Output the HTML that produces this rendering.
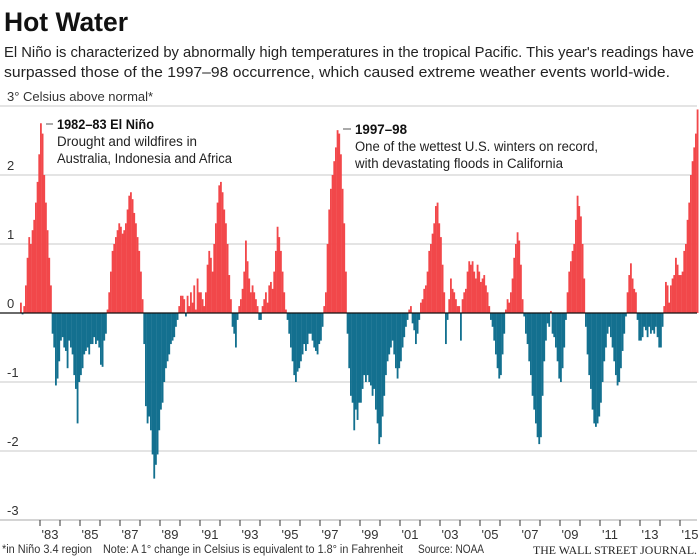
<!DOCTYPE html>
<html><head><meta charset="utf-8"><style>
html,body{margin:0;padding:0;background:#fff;}
svg{display:block;font-family:"Liberation Sans",sans-serif;}
</style></head><body>
<svg id="chart" width="700" height="559" viewBox="0 0 700 559" xmlns="http://www.w3.org/2000/svg">
<text x="4" y="31" font-size="27" font-weight="bold" fill="#111" textLength="124" lengthAdjust="spacingAndGlyphs">Hot Water</text>
<text x="4" y="57" font-size="15" fill="#222" textLength="690" lengthAdjust="spacingAndGlyphs">El Niño is characterized by abnormally high temperatures in the tropical Pacific. This year's readings have</text>
<text x="4" y="77" font-size="15" fill="#222" textLength="666" lengthAdjust="spacingAndGlyphs">surpassed those of the 1997–98 occurrence, which caused extreme weather events world-wide.</text>
<g id="grid"></g>
<g id="bars"></g>
<g id="axis"></g>
<g id="ylabels"></g>
<g>
<line x1="46" y1="124" x2="53" y2="124" stroke="#555" stroke-width="1"/>
<text x="57" y="129" font-size="13.5" font-weight="bold" fill="#111" textLength="97" lengthAdjust="spacingAndGlyphs">1982–83 El Niño</text>
<text x="57" y="146" font-size="13.5" fill="#222" textLength="140" lengthAdjust="spacingAndGlyphs">Drought and wildfires in</text>
<text x="57" y="163" font-size="13.5" fill="#222" textLength="175" lengthAdjust="spacingAndGlyphs">Australia, Indonesia and Africa</text>
</g>
<g>
<line x1="343" y1="129" x2="351" y2="129" stroke="#555" stroke-width="1"/>
<text x="355" y="134" font-size="13.5" font-weight="bold" fill="#111" textLength="52" lengthAdjust="spacingAndGlyphs">1997–98</text>
<text x="355" y="151" font-size="13.5" fill="#222" textLength="243" lengthAdjust="spacingAndGlyphs">One of the wettest U.S. winters on record,</text>
<text x="355" y="168" font-size="13.5" fill="#222" textLength="208" lengthAdjust="spacingAndGlyphs">with devastating floods in California</text>
</g>
<text x="2" y="553" font-size="11.5" fill="#333" textLength="90" lengthAdjust="spacingAndGlyphs">*in Niño 3.4 region</text>
<text x="103" y="553" font-size="11.5" fill="#333" textLength="300" lengthAdjust="spacingAndGlyphs">Note: A 1° change in Celsius is equivalent to 1.8° in Fahrenheit</text>
<text x="418" y="553" font-size="11.5" fill="#333" textLength="66" lengthAdjust="spacingAndGlyphs">Source: NOAA</text>
<text x="533" y="554" font-size="12" fill="#222" font-family="Liberation Serif,serif" textLength="164" lengthAdjust="spacingAndGlyphs">THE WALL STREET JOURNAL.</text>
</svg>
<script>
const startYear = 1982;
const yTicks = [3, 2, 1, 0, -1, -2, -3];
const yTickLabels = ["3° Celsius above normal*", "2", "1", "0", "-1", "-2", "-3"];
const yearLabels = ["'83","'85","'87","'89","'91","'93","'95","'97","'99","'01","'03","'05","'07","'09","'11","'13","'15"];
const v1982 = [0.15,-0.02,0.1,0.4,0.8,1.1,1.0,1.2,1.35,1.6,1.9,2.3];
const v1983 = [2.75,2.6,2.0,1.6,1.2,0.8,0.4,-0.3,-0.5,-1.05,-0.95,-0.7];
const v1984 = [-0.4,-0.35,-0.5,-0.55,-0.8,-0.4,-0.5,-0.6,-0.9,-1.1,-1.6,-1.0];
const v1985 = [-0.9,-0.8,-0.6,-0.55,-0.5,-0.6,-0.45,-0.45,-0.35,-0.45,-0.4,-0.5];
const v1986 = [-0.75,-0.78,-0.4,-0.3,0.05,0.3,0.6,0.9,1.0,1.1,1.2,1.3];
const v1987 = [1.25,1.15,1.2,1.3,1.5,1.7,1.75,1.65,1.45,1.3,1.1,0.9];
const v1988 = [0.6,0.2,-0.45,-1.35,-1.6,-1.5,-1.7,-2.05,-2.4,-2.2,-2.05,-1.7];
const v1989 = [-1.4,-1.3,-1.0,-0.8,-0.7,-0.6,-0.45,-0.4,-0.35,-0.2,-0.1,0.1];
const v1990 = [0.25,0.25,0.2,-0.05,0.25,0.1,0.3,0.15,0.4,0.05,0.5,0.3];
const v1991 = [0.3,0.2,0.1,0.3,0.7,0.9,0.8,0.6,1.0,1.3,1.6,1.85];
const v1992 = [1.9,1.75,1.5,1.3,1.0,0.55,0.2,-0.2,-0.3,-0.5,-0.1,0.1];
const v1993 = [0.2,0.35,0.6,1.05,0.75,0.5,0.3,0.4,0.3,0.2,0.1,-0.1];
const v1994 = [-0.1,0.1,0.2,0.3,0.15,0.4,0.45,0.35,0.6,0.9,1.25,1.1];
const v1995 = [0.9,0.6,0.3,0.05,-0.1,-0.3,-0.5,-0.7,-0.9,-1.0,-0.85,-0.8];
const v1996 = [-0.7,-0.6,-0.45,-0.55,-0.45,-0.3,-0.3,-0.4,-0.5,-0.55,-0.6,-0.45];
const v1997 = [-0.4,-0.2,0.1,0.3,1.0,1.5,1.8,2.0,2.2,2.4,2.65,2.6];
const v1998 = [2.3,1.8,1.3,0.6,-0.3,-0.8,-1.2,-1.3,-1.7,-1.4,-1.55,-1.3];
const v1999 = [-1.3,-1.1,-0.9,-1.0,-0.9,-1.0,-1.05,-1.2,-1.1,-1.4,-1.6,-1.9];
const v2000 = [-1.8,-1.5,-1.2,-0.9,-0.7,-0.6,-0.5,-0.4,-0.6,-0.8,-0.95,-0.8];
const v2001 = [-0.7,-0.5,-0.35,-0.2,-0.1,0.05,0.1,-0.15,-0.25,-0.45,-0.3,-0.1];
const v2002 = [0.15,0.2,0.35,0.4,0.6,0.9,1.0,1.15,1.3,1.55,1.6,1.3];
const v2003 = [1.1,0.7,0.3,-0.45,-0.1,0.2,0.5,0.35,0.3,0.2,0.1,0.1];
const v2004 = [-0.4,0.2,0.3,0.35,0.6,0.75,0.7,0.75,0.6,0.5,0.7,0.6];
const v2005 = [0.45,0.5,0.55,0.4,0.3,0.1,-0.1,-0.2,-0.4,-0.6,-0.8,-0.95];
const v2006 = [-0.9,-0.6,-0.3,0.05,0.2,0.15,0.3,0.5,0.8,1.0,1.17,1.05];
const v2007 = [0.7,0.2,-0.05,-0.3,-0.45,-0.7,-0.9,-1.2,-1.4,-1.6,-1.8,-1.9];
const v2008 = [-1.8,-1.2,-0.7,-0.4,-0.15,-0.2,0.03,-0.3,-0.35,-0.5,-0.7,-0.95];
const v2009 = [-1.0,-0.8,-0.5,-0.1,0.3,0.6,0.75,0.9,1.0,1.35,1.7,1.55];
const v2010 = [1.4,1.0,0.5,-0.2,-0.6,-0.9,-1.1,-1.4,-1.6,-1.65,-1.6,-1.5];
const v2011 = [-1.3,-1.0,-0.7,-0.5,-0.3,-0.2,-0.35,-0.5,-0.7,-0.9,-1.05,-1.0];
const v2012 = [-0.8,-0.55,-0.3,-0.05,0.3,0.55,0.72,0.5,0.35,0.3,-0.1,-0.4];
const v2013 = [-0.4,-0.35,-0.2,-0.25,-0.35,-0.2,-0.3,-0.25,-0.3,-0.2,-0.35,-0.5];
const v2014 = [-0.5,-0.2,0.1,0.45,0.4,0.15,0.4,0.5,0.55,0.8,0.7,0.55];
const v2015 = [0.55,0.6,0.9,1.0,1.35,1.6,2.0,2.2,2.4,2.6,2.95];
const years = [v1982,v1983,v1984,v1985,v1986,v1987,v1988,v1989,v1990,v1991,v1992,v1993,v1994,v1995,v1996,v1997,v1998,v1999,v2000,v2001,v2002,v2003,v2004,v2005,v2006,v2007,v2008,v2009,v2010,v2011,v2012,v2013,v2014,v2015];

const NS = "http://www.w3.org/2000/svg";
const X0 = 20, PX_PER_YEAR = 20, Y0 = 313, PX_PER_UNIT = 69;
function xScale(t){ return X0 + (t - startYear) * PX_PER_YEAR; }
function yScale(v){ return Y0 - v * PX_PER_UNIT; }
function mk(tag, attrs, parent){ const e = document.createElementNS(NS, tag); for (const k in attrs) e.setAttribute(k, attrs[k]); parent.appendChild(e); return e; }

const grid = document.getElementById('grid');
const ylab = document.getElementById('ylabels');
yTicks.forEach((t, i) => {
  if (t !== 0) {
    const l = mk('line', {x1: 0, x2: 697, y1: yScale(t), y2: yScale(t), stroke: t === -3 ? '#bbb' : '#c8c8c8', 'stroke-width': 1}, grid);
    
    
  }
  const tx = mk('text', {x: 7, y: yScale(t) - 5, 'font-size': 13, fill: '#333'}, ylab);
  tx.textContent = yTickLabels[i];
  
  
});

const bars = document.getElementById('bars');
const bw = PX_PER_YEAR / 12;
years.forEach((vals, yi) => {
  vals.forEach((v, m) => {
    const x = xScale(startYear + yi + m / 12);
    const y1 = yScale(Math.max(v, 0)), y2 = yScale(Math.min(v, 0));
    const r = mk('rect', {x: x.toFixed(2), y: y1.toFixed(2), width: (bw + 0.15).toFixed(2), height: Math.max(y2 - y1, 0.5).toFixed(2), fill: v >= 0 ? '#f2474a' : '#13708f'}, bars);
    
    
  });
});

const axis = document.getElementById('axis');
const zl = mk('line', {x1: 0, x2: 697, y1: Y0, y2: Y0, stroke: '#111', 'stroke-width': 1.2}, axis);


const bl = mk('line', {x1: 0, x2: 697, y1: yScale(-3), y2: yScale(-3), stroke: '#aaa', 'stroke-width': 1}, axis);


for (let yr = 1983; yr <= 2015; yr++) {
  const tk = mk('line', {x1: xScale(yr), x2: xScale(yr), y1: yScale(-3), y2: yScale(-3) + 6, stroke: '#333', 'stroke-width': 1}, axis);
  
  
}
yearLabels.forEach((lab, i) => {
  const yr = 1983 + i * 2;
  const t = mk('text', {x: xScale(yr + 0.5), y: 539, 'font-size': 13, fill: '#333', 'text-anchor': 'middle'}, axis);
  t.textContent = lab;
  
  
});
</script>
</body></html>
